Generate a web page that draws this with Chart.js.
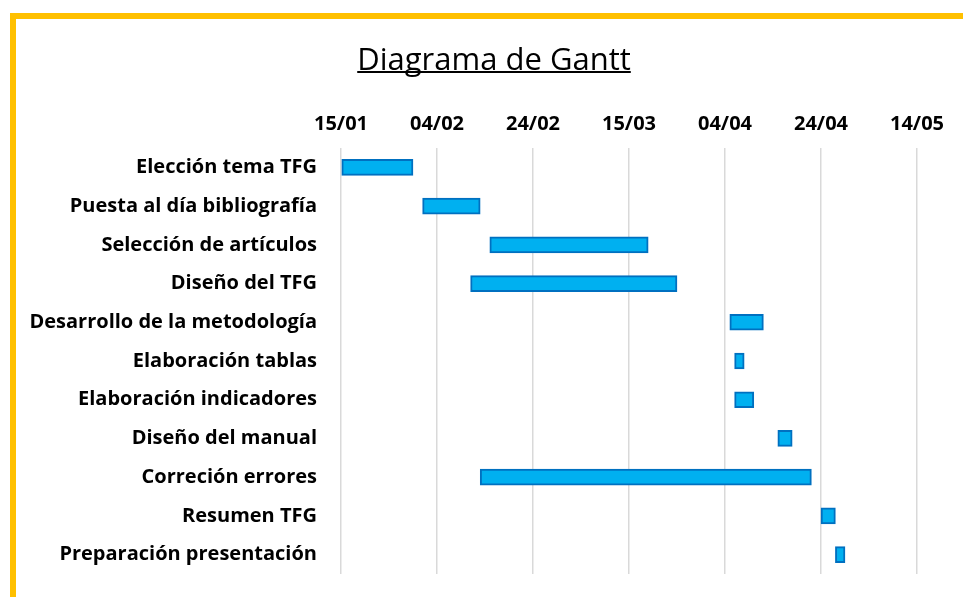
<!DOCTYPE html>
<html>
<head>
<meta charset="utf-8">
<script src="https://cdn.jsdelivr.net/npm/chart.js@4.4.1/dist/chart.umd.min.js"></script>
<style>
  html, body { margin: 0; padding: 0; background: #fff; }
  canvas { display: block; }
</style>
</head>
<body>
<canvas id="myChart" width="963" height="597"></canvas>
<script>
// tasks and their start / end dates (dd/mm, year 2020)
const tasks = [
    'Elección tema TFG',
    'Puesta al día bibliografía',
    'Selección de artículos',
    'Diseño del TFG',
    'Desarrollo de la metodología',
    'Elaboración tablas',
    'Elaboración indicadores',
    'Diseño del manual',
    'Correción errores',
    'Resumen TFG',
    'Preparación presentación'
];
const startDates = ['15/01', '01/02', '15/02', '11/02', '05/04', '06/04', '06/04', '15/04', '13/02', '24/04', '27/04'];
const endDates   = ['30/01', '13/02', '19/03', '25/03', '12/04', '08/04', '10/04', '18/04', '22/04', '27/04', '29/04'];

const year = 2020;
const firstDay = '15/01';
const dayStep = 20;   // one tick every 20 days
const lastTick = 120; // 14/05

const DAY = 24 * 3600 * 1000;
function toDate(s) {
    const p = s.split('/');
    return Date.UTC(year, +p[1] - 1, +p[0]);
}
const origin = toDate(firstDay);
function dayOf(s) {
    return Math.round((toDate(s) - origin) / DAY);
}
function labelOf(d) {
    const t = new Date(origin + d * DAY);
    const dd = String(t.getUTCDate()).padStart(2, '0');
    const mm = String(t.getUTCMonth() + 1).padStart(2, '0');
    return dd + '/' + mm;
}

const spans = tasks.map((t, i) => [dayOf(startDates[i]), dayOf(endDates[i])]);

// yellow frame + underlined title
const decor = {
    id: 'decor',
    beforeDraw(chart) {
        const ctx = chart.ctx;
        ctx.save();
        ctx.fillStyle = '#FFC000';
        ctx.fillRect(10, 13, 953, 6);
        ctx.fillRect(10, 13, 6, 584);
        ctx.restore();
    },
    afterDraw(chart) {
        const ctx = chart.ctx;
        const text = 'Diagrama de Gantt';
        ctx.save();
        ctx.font = '31px "Open Sans"';
        ctx.fillStyle = '#000';
        ctx.textAlign = 'center';
        ctx.textBaseline = 'alphabetic';
        const x = 494, y = 70;
        ctx.fillText(text, x, y);
        const w = ctx.measureText(text).width;
        ctx.fillRect(x - w / 2, y + 1, w, 2);
        ctx.restore();
    }
};

const data = {
    labels: tasks,
    datasets: [{
        label: 'Tareas',
        data: spans,
        backgroundColor: '#00B0F0',
        borderColor: '#0070C0',
        borderWidth: 2,
        borderSkipped: false,
        barThickness: 16
    }]
};

const config = {
    type: 'bar',
    data: data,
    options: {
        indexAxis: 'y',
        responsive: false,
        animation: false,
        layout: {
            padding: { left: 0, right: 46, top: 0, bottom: 23 }
        },
        scales: {
            x: {
                type: 'linear',
                position: 'top',
                min: 0,
                max: lastTick,
                afterFit(scale) { scale.height = 148; },
                ticks: {
                    stepSize: dayStep,
                    padding: 12,
                    color: '#000',
                    font: { family: 'Open Sans', size: 20, weight: 'bold' },
                    callback: (v) => labelOf(v)
                },
                grid: {
                    color: '#D9D9D9',
                    lineWidth: 1.5,
                    drawTicks: false
                },
                border: { display: false }
            },
            y: {
                afterFit(scale) {
                    scale.width = 341;
                    scale.paddingTop = 0;
                    scale.paddingBottom = 0;
                },
                ticks: {
                    padding: 24,
                    color: '#000',
                    font: { family: 'Open Sans', size: 20, weight: 'bold' }
                },
                grid: { display: false, drawTicks: false },
                border: { display: false }
            }
        },
        plugins: {
            legend: { display: false },
            title: { display: false },
            tooltip: { enabled: false }
        }
    },
    plugins: [decor]
};

const myChart = new Chart(
    document.getElementById('myChart'),
    config
);
</script>
</body>
</html>
